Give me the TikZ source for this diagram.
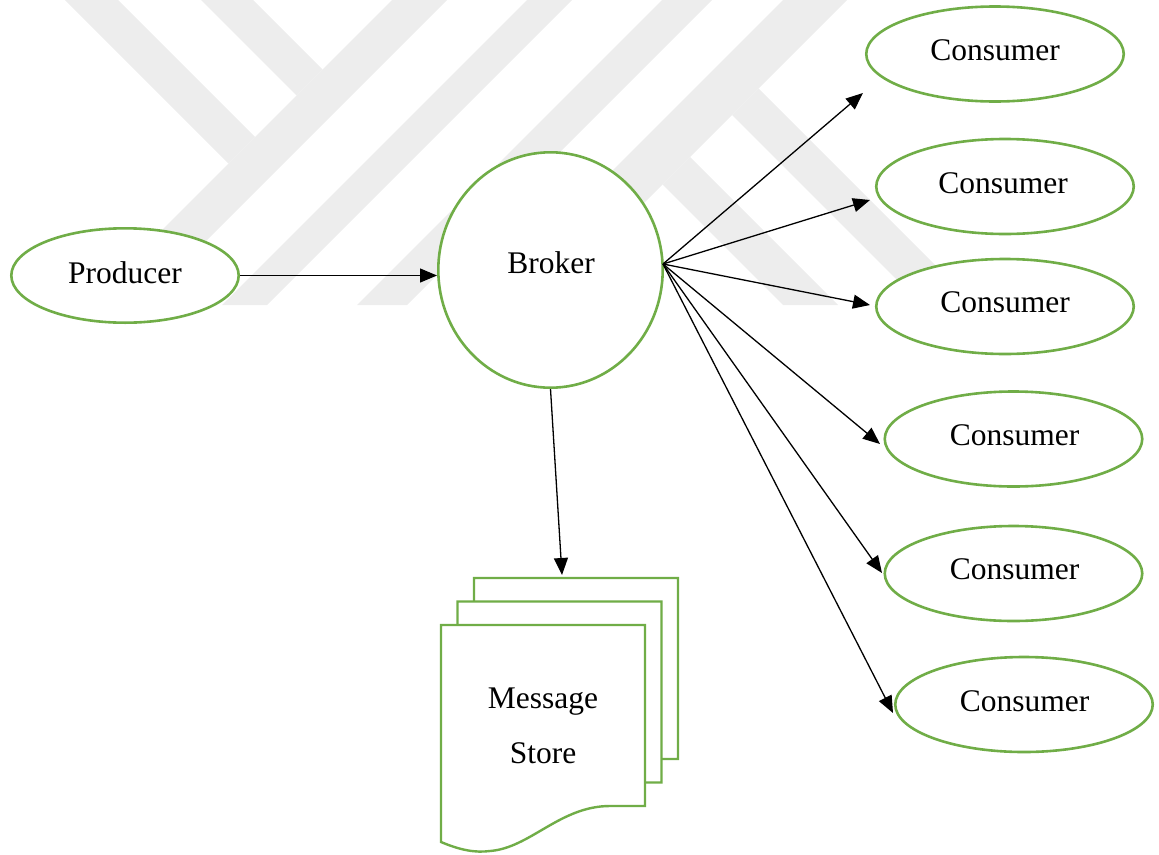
\documentclass[tikz,border=0pt]{standalone}
\usepackage{fontspec}
\setmainfont{Liberation Serif}
\usetikzlibrary{arrows.meta,shapes.geometric}
\definecolor{leafgreen}{RGB}{112,173,71}
\definecolor{wmgray}{RGB}{237,237,237}
\tikzset{
  ring/.style={ellipse, draw=leafgreen, line width=2.6pt, fill=white, inner sep=0pt},
  consumerring/.style={ring, minimum width=257.5pt, minimum height=95pt},
  word/.style={anchor=base, inner sep=0pt, font=\fontsize{31.5}{38}\selectfont},
  link/.style={line width=1.3pt, -{Triangle[length=17pt,width=14pt]}},
  sheet/.style={draw=leafgreen, line width=2.4pt, fill=white, line join=miter},
  band/.style={fill=wmgray, draw=none},
  docsheet/.pic={
    \path[sheet] (0,0) -- (204,0) -- (204,181) -- (169,181)
      .. controls (119,181) and (89,223) .. (49,226)
      .. controls (34,228) and (19,225) .. (0,217) -- cycle;
  },
}
\begin{document}
\begin{tikzpicture}[x=1pt,y=-1pt]
\useasboundingbox (0,0) rectangle (1159,854);

% faint background emblem: diagonal bands
\fill[band] (392,0) -- (447,0) -- (142,305) -- (87,305) -- cycle;
\fill[band] (527,0) -- (572,0) -- (267,305) -- (222,305) -- cycle;
\fill[band] (662,0) -- (712,0) -- (407,305) -- (357,305) -- cycle;
\fill[band] (783,0) -- (847,0) -- (542,305) -- (478,305) -- cycle;
\fill[band] (65,0) -- (118,0) -- (255,137) -- (228.5,163.5) -- cycle;
\fill[band] (201,0) -- (253,0) -- (322.5,69.5) -- (296.5,95.5) -- cycle;
\fill[band] (758.5,88.5) -- (975,305) -- (922,305) -- (732,115) -- cycle;
\fill[band] (690,157) -- (838,305) -- (783,305) -- (662.5,184.5) -- cycle;

% message store: three stacked sheets, back to front
\pic at (474,578) {docsheet};
\pic at (457.5,601.5) {docsheet};
\pic at (441,625) {docsheet};
\node[word] (msgA) at (543,708) {Message};
\node[word] (msgB) at (543,763) {Store};

% producer, broker and consumers
\node[ring, minimum width=227.4pt, minimum height=94.4pt] (prod) at (125,275.5) {};
\node[ring, minimum width=224.4pt, minimum height=235.4pt] (broker) at (550.5,270) {};
\node[consumerring] (c1) at (995,54) {};
\node[consumerring] (c2) at (1005,186.5) {};
\node[consumerring] (c3) at (1005,306.5) {};
\node[consumerring] (c4) at (1013.5,439) {};
\node[consumerring] (c5) at (1013.5,573.5) {};
\node[consumerring] (c6) at (1024,704.5) {};

\node[word] (prodtext) at (125,283) {Producer};
\node[word] (brokertext) at (551,273) {Broker};
\node[word] (c1text) at (995,60) {Consumer};
\node[word] (c2text) at (1003,193) {Consumer};
\node[word] (c3text) at (1005,312) {Consumer};
\node[word] (c4text) at (1014.5,445) {Consumer};
\node[word] (c5text) at (1014.5,579) {Consumer};
\node[word] (c6text) at (1024.5,711) {Consumer};

% connectors
\coordinate (hub) at (663,264);
\coordinate (tip1) at (863,93);
\coordinate (tip2) at (870,200);
\coordinate (tip3) at (870,305);
\coordinate (tip4) at (880,444);
\coordinate (tip5) at (882,573);
\coordinate (tip6) at (893,713);
\coordinate (storetop) at (562,575);

\draw[link] (prod.east) -- (prod.east -| broker.west);
\foreach \t in {tip1,tip2,tip3,tip4,tip5,tip6}
  \draw[link] (hub) -- (\t);
\draw[link] (broker.south) -- (storetop);
\end{tikzpicture}
\end{document}
